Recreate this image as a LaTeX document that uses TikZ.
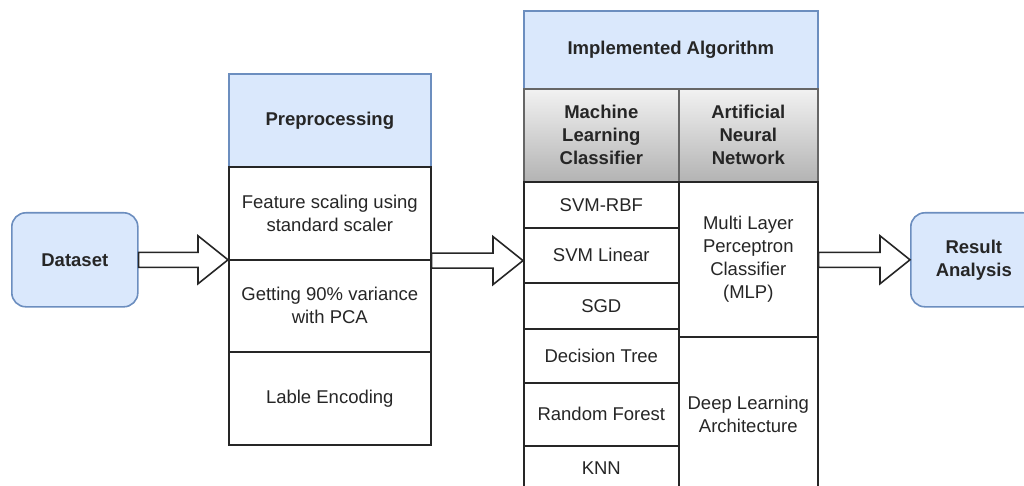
\documentclass[tikz,border=0pt]{standalone}
\usepackage{fontspec}
\setmainfont{Liberation Sans}
\usetikzlibrary{calc}
\definecolor{bluefill}{HTML}{DAE8FC}
\definecolor{blueline}{HTML}{6C8EBF}
\definecolor{grayline}{HTML}{666666}
\definecolor{graytop}{HTML}{F2F2F2}
\definecolor{graybot}{HTML}{B3B3B3}
\definecolor{ink}{HTML}{262626}
\newcommand{\txtfont}{\fontsize{18.5pt}{23pt}\selectfont}
\tikzset{
  cell/.style={draw=ink, line width=1.6pt, fill=white, anchor=north west,
    inner sep=0pt, align=center, text=ink, font=\txtfont},
  bluehead/.style={cell, draw=blueline, fill=bluefill, font=\txtfont\bfseries},
  grayhead/.style={cell, draw=grayline, top color=graytop, bottom color=graybot,
    font=\txtfont\bfseries},
  endbox/.style={draw=blueline, fill=bluefill, line width=1.6pt, rounded corners=14pt,
    anchor=north west, inner sep=0pt, align=center, text=ink, font=\txtfont\bfseries,
    minimum width=126pt, minimum height=94pt},
  flexarrow/.style={draw=ink, fill=white, line width=1.6pt, line join=miter}
}
% hollow block arrow between two points, horizontal, at the height of the first
\newcommand{\blockarrow}[2]{%
  \draw[flexarrow] let \p1=(#1), \p2=(#2) in
    (\x1,\y1+7.5pt) -- (\x2-30pt,\y1+7.5pt) -- (\x2-30pt,\y1+24pt) --
    (\x2,\y1) -- (\x2-30pt,\y1-24pt) -- (\x2-30pt,\y1-7.5pt) --
    (\x1,\y1-7.5pt) -- cycle;}
\begin{document}
\begin{tikzpicture}[x=1pt,y=-1pt]
\useasboundingbox (0,0) rectangle (1024,486);
\clip (0,0) rectangle (1024,486);

% input and output
\node[endbox] (dataset) at (11,212) {Dataset};
\node[endbox] (result) at (910,212) {Result\\Analysis};

% preprocessing column
\node[bluehead, minimum width=202pt, minimum height=93pt] (prehead) at (228,73) {Preprocessing};
\node[cell, minimum width=202pt, minimum height=93pt] (pre1) at (228,166) {Feature scaling using\\standard scaler};
\node[cell, minimum width=202pt, minimum height=92pt] (pre2) at (228,259) {Getting 90\% variance\\with PCA};
\node[cell, minimum width=202pt, minimum height=93pt] (pre3) at (228,351) {Lable Encoding};

% algorithm table
\node[bluehead, minimum width=294pt, minimum height=78pt] (impl) at (523,10) {Implemented Algorithm};
\node[grayhead, minimum width=155pt, minimum height=93pt] (mlc) at (523,88) {Machine\\Learning\\Classifier};
\node[grayhead, minimum width=139pt, minimum height=93pt] (ann) at (678,88) {Artificial\\Neural\\Network};

\node[cell, minimum width=155pt, minimum height=46pt] (svmrbf) at (523,181) {SVM-RBF};
\node[cell, minimum width=155pt, minimum height=55pt] (svmlin) at (523,227) {SVM Linear};
\node[cell, minimum width=155pt, minimum height=46pt] (sgd) at (523,282) {SGD};
\node[cell, minimum width=155pt, minimum height=54pt] (dtree) at (523,328) {Decision Tree};
\node[cell, minimum width=155pt, minimum height=63pt] (rforest) at (523,382) {Random Forest};
\node[cell, minimum width=155pt, minimum height=44pt] (knn) at (523,445) {KNN};

\node[cell, minimum width=139pt, minimum height=155pt] (mlp) at (678,181) {Multi Layer\\Perceptron\\Classifier\\(MLP)};
\node[cell, minimum width=139pt, minimum height=155pt] (deep) at (678,336) {Deep Learning\\Architecture};

% connectors
\coordinate (a1s) at (dataset.east);
\coordinate (a1e) at (dataset.east -| pre1.west);
\blockarrow{a1s}{a1e}
\coordinate (a2s) at (pre1.south east);
\coordinate (a2e) at (pre1.south east -| svmlin.west);
\blockarrow{a2s}{a2e}
\coordinate (a3s) at (result.west -| mlp.east);
\coordinate (a3e) at (result.west);
\blockarrow{a3s}{a3e}
\end{tikzpicture}
\end{document}
